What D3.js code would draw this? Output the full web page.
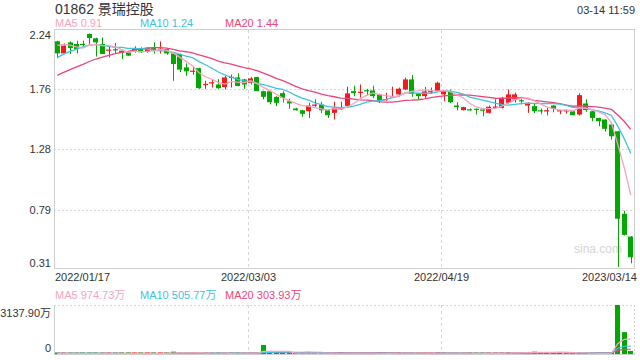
<!DOCTYPE html>
<html><head><meta charset="utf-8">
<script src="https://cdn.jsdelivr.net/npm/d3@7/dist/d3.min.js"></script>
<style>
html,body{margin:0;padding:0;background:#fff;}
svg{display:block;font-family:"Liberation Sans",Arial,"Noto Sans CJK SC",sans-serif;}
</style></head>
<body><svg id="c" width="640" height="360"></svg>
<script>
const title = "01862 景瑞控股";
const stamp = "03-14 11:59";
const dates = ["2022/01/17","2022/01/18","2022/01/19","2022/01/20","2022/01/21","2022/01/24","2022/01/25","2022/01/26","2022/01/27","2022/01/28",
"2022/01/31","2022/02/04","2022/02/07","2022/02/08","2022/02/09","2022/02/10","2022/02/11","2022/02/14","2022/02/15","2022/02/16",
"2022/02/17","2022/02/18","2022/02/21","2022/02/22","2022/02/23","2022/02/24","2022/02/25","2022/02/28","2022/03/01","2022/03/02",
"2022/03/03","2022/03/04","2022/03/07","2022/03/08","2022/03/09","2022/03/10","2022/03/11","2022/03/14","2022/03/15","2022/03/16",
"2022/03/17","2022/03/18","2022/03/21","2022/03/22","2022/03/23","2022/03/24","2022/03/25","2022/03/28","2022/03/29","2022/03/30",
"2022/03/31","2022/04/01","2022/04/04","2022/04/06","2022/04/07","2022/04/08","2022/04/11","2022/04/12","2022/04/13","2022/04/14",
"2022/04/19","2022/04/20","2022/04/21","2022/04/22","2022/04/25","2022/04/26","2022/04/27","2022/04/28","2022/04/29","2022/05/03",
"2022/05/04","2022/05/05","2022/05/06","2022/05/10","2022/05/11","2022/05/12","2022/05/13","2022/05/16","2022/05/17","2022/05/18",
"2022/05/19","2022/05/20","2022/05/23","2022/05/24","2022/05/25","2022/05/26","2022/05/27","2023/03/10","2023/03/13","2023/03/14"];
const open  = [2.149,2.051,2.140,2.127,2.128,2.208,2.173,2.127,2.078,2.085,2.073,2.060,2.068,2.094,2.068,2.094,2.085,2.086,2.051,2.046,
1.938,1.905,1.932,1.800,1.810,1.800,1.779,1.855,1.857,1.841,1.814,1.860,1.746,1.746,1.700,1.730,1.665,1.606,1.592,1.584,
1.634,1.638,1.592,1.571,1.600,1.627,1.746,1.738,1.754,1.752,1.720,1.678,1.700,1.720,1.760,1.841,1.725,1.706,1.742,1.746,
1.720,1.746,1.630,1.593,1.600,1.604,1.598,1.571,1.618,1.612,1.652,1.680,1.673,1.630,1.625,1.592,1.590,1.630,1.590,1.590,
1.584,1.557,1.647,1.584,1.530,1.517,1.477,1.422,0.756,0.572];
const high  = [2.154,2.132,2.148,2.154,2.154,2.212,2.178,2.180,2.114,2.135,2.076,2.065,2.108,2.100,2.100,2.140,2.148,2.090,2.055,2.050,
1.970,1.944,1.935,1.830,1.843,1.843,1.870,1.880,1.890,1.846,1.860,1.862,1.750,1.750,1.705,1.745,1.686,1.612,1.595,1.652,
1.680,1.660,1.595,1.660,1.660,1.782,1.790,1.800,1.765,1.790,1.725,1.733,1.782,1.775,1.855,1.876,1.730,1.780,1.775,1.822,
1.755,1.760,1.657,1.620,1.606,1.606,1.600,1.630,1.680,1.700,1.760,1.735,1.685,1.655,1.650,1.605,1.612,1.632,1.596,1.596,
1.586,1.730,1.680,1.586,1.532,1.519,1.480,1.425,0.780,0.575];
const low   = [2.013,2.046,2.046,2.051,2.108,2.127,2.025,2.046,2.019,2.046,2.005,2.030,2.057,2.055,2.057,2.050,2.050,2.040,1.830,1.900,
1.870,1.879,1.765,1.763,1.776,1.765,1.760,1.776,1.785,1.765,1.800,1.746,1.680,1.640,1.625,1.655,1.604,1.590,1.540,1.530,
1.620,1.570,1.530,1.517,1.595,1.625,1.705,1.695,1.711,1.690,1.650,1.670,1.690,1.700,1.755,1.700,1.673,1.690,1.725,1.740,
1.665,1.650,1.590,1.590,1.590,1.557,1.544,1.565,1.612,1.606,1.645,1.655,1.640,1.571,1.570,1.560,1.550,1.575,1.560,1.565,
1.552,1.550,1.580,1.503,1.463,1.420,1.355,0.325,0.580,0.356];
const close = [2.051,2.114,2.094,2.086,2.125,2.175,2.140,2.046,2.082,2.080,2.057,2.033,2.094,2.060,2.094,2.078,2.090,2.051,1.965,1.920,
1.906,1.912,1.770,1.805,1.818,1.770,1.857,1.862,1.788,1.800,1.849,1.746,1.700,1.657,1.652,1.693,1.647,1.592,1.563,1.630,
1.638,1.592,1.552,1.612,1.608,1.728,1.730,1.742,1.752,1.706,1.665,1.682,1.706,1.766,1.841,1.725,1.706,1.744,1.746,1.814,
1.752,1.657,1.617,1.617,1.598,1.602,1.590,1.620,1.622,1.693,1.720,1.720,1.671,1.652,1.584,1.590,1.592,1.603,1.592,1.592,
1.552,1.714,1.593,1.530,1.503,1.442,1.382,0.716,0.586,0.405];
// 成交量 (万股)
const volume = [45,30,35,28,22,40,38,55,30,25,20,35,30,28,26,32,40,45,150,90,
60,35,80,45,30,50,60,40,55,45,65,70,580,90,60,55,50,45,70,60,
40,50,55,60,40,80,50,45,40,55,50,35,45,50,70,65,40,45,35,60,
55,60,50,35,40,35,45,50,40,60,120,95,80,110,150,70,85,90,120,100.9,
30,45,40,35,34.05,40,100,3137.9,1400,195.75];
// 之前 19 个交易日 (用于均线)
const priorCloses = [1.62,1.64,1.66,1.70,1.72,1.74,1.76,1.78,1.80,1.87,1.84,1.87,1.90,1.95,2.03,2.08,2.12,2.16,2.17];
const priorVolumes = [40,35,50,45,30,40,55,60,45,50,35,40,45,60,50,40,45,35,50];
const priceTicks = [2.24,1.76,1.28,0.79,0.31];
const dateTicks = ["2022/01/17","2022/03/03","2022/04/19","2023/03/14"];
const volMax = 3137.90;

const C = {up:"#f21a1a", down:"#00a800", ma5:"#f5a3bf", ma10:"#3fc2df", ma20:"#e9457b",
  txt:"#333", grid:"#d6d6d6", frame:"#cfcfcf"};

const svg = d3.select("#c");
const L=54, R=634, T=30, B=269, VT=305, VB=354;

const x = d3.scaleBand().domain(dates).range([L,R]).paddingInner(0.22).paddingOuter(0.11);
const bw = x.bandwidth();
const cx = d => x(d) + bw/2;
const y = d3.scaleLinear().domain([0.31,2.24]).range([B,T]);
const yv = d3.scaleLinear().domain([0,volMax]).range([VB,VT]);

function ma(arr, prior, n){
  const all = prior.concat(arr), off = prior.length;
  return arr.map((_,i)=>{const j=i+off; if(j-n+1<0) return null; return d3.mean(all.slice(j-n+1,j+1));});
}
const pm5=ma(close,priorCloses,5), pm10=ma(close,priorCloses,10), pm20=ma(close,priorCloses,20);
const vm5=ma(volume,priorVolumes,5), vm10=ma(volume,priorVolumes,10), vm20=ma(volume,priorVolumes,20);

// header
svg.append("text").attr("x",55).attr("y",14).attr("font-size",14).attr("fill",C.txt).text(title);
svg.append("text").attr("x",635).attr("y",14).attr("text-anchor","end").attr("font-size",11).attr("fill",C.txt).text(stamp);
const last = close.length-1;
[[55,"MA5 ",pm5,C.ma5],[140,"MA10 ",pm10,C.ma10],[225,"MA20 ",pm20,C.ma20]].forEach(([px,lab,arr,col])=>{
  svg.append("text").attr("x",px).attr("y",27).attr("font-size",11).attr("fill",col).text(lab+arr[last].toFixed(2));
});

// price grid
const g = svg.append("g");
priceTicks.slice(1,-1).forEach(v=>{
  g.append("line").attr("x1",L).attr("x2",R).attr("y1",Math.round(y(v))+0.5).attr("y2",Math.round(y(v))+0.5)
   .attr("stroke",C.grid).attr("stroke-dasharray","2,2");
});
dateTicks.slice(1,-1).forEach(d=>{
  const gx = Math.round(x(d))+0.5;
  g.append("line").attr("x1",gx).attr("x2",gx).attr("y1",T).attr("y2",B).attr("stroke",C.grid).attr("stroke-dasharray","3,3");
  g.append("line").attr("x1",gx).attr("x2",gx).attr("y1",VT).attr("y2",VB).attr("stroke",C.grid).attr("stroke-dasharray","3,3");
});
// frame
g.append("rect").attr("x",L+0.5).attr("y",T-0.5).attr("width",R-L).attr("height",B-T).attr("fill","none").attr("stroke",C.frame);
g.append("line").attr("x1",L).attr("x2",R).attr("y1",VT+0.5).attr("y2",VT+0.5).attr("stroke",C.grid).attr("stroke-dasharray","2,2");
g.append("line").attr("x1",R+0.5).attr("x2",R+0.5).attr("y1",VT).attr("y2",VB).attr("stroke",C.grid).attr("stroke-dasharray","2,2");
g.append("line").attr("x1",L+0.5).attr("x2",L+0.5).attr("y1",VT).attr("y2",VB).attr("stroke",C.frame);
g.append("line").attr("x1",L).attr("x2",R+1).attr("y1",VB+0.5).attr("y2",VB+0.5).attr("stroke",C.frame);

// watermark
svg.append("text").attr("x",622).attr("y",253).attr("text-anchor","end").attr("font-size",12).attr("fill","#d4d4d4").text("sina.com");

// y labels
priceTicks.forEach((v,i)=>{
  const dy = i===0 ? 9 : (i===priceTicks.length-1 ? -2 : 4);
  svg.append("text").attr("x",51).attr("y",y(v)+dy).attr("text-anchor","end").attr("font-size",11).attr("fill",C.txt).text(v.toFixed(2));
});
// date labels
dateTicks.forEach((d,i)=>{
  const anchor = i===0?"start":(i===dateTicks.length-1?"end":"middle");
  const px = i===0?L+1:(i===dateTicks.length-1?637:Math.round(x(d))+0.5);
  svg.append("text").attr("x",px).attr("y",281).attr("text-anchor",anchor).attr("font-size",11).attr("fill",C.txt).text(d);
});

// candles
const idx = d3.range(dates.length);
const cg = svg.append("g");
cg.selectAll("line.w").data(idx).join("line")
  .attr("x1",i=>Math.round(cx(dates[i]))+0.5).attr("x2",i=>Math.round(cx(dates[i]))+0.5)
  .attr("y1",i=>y(high[i])).attr("y2",i=>y(low[i]))
  .attr("stroke",i=>close[i]>=open[i]?C.up:C.down).attr("stroke-width",1);
cg.selectAll("rect").data(idx).join("rect")
  .attr("x",i=>Math.round(x(dates[i]))).attr("width",Math.round(bw))
  .attr("y",i=>y(Math.max(open[i],close[i])))
  .attr("height",i=>Math.max(1.2,Math.abs(y(open[i])-y(close[i]))))
  .attr("fill",i=>close[i]>=open[i]?C.up:C.down);

// MA lines
const line = d3.line().defined(d=>d.v!=null).x(d=>cx(dates[d.i])).y(d=>d.yy(d.v));
[[pm20,C.ma20],[pm10,C.ma10],[pm5,C.ma5]].forEach(([arr,col])=>{
  svg.append("path").attr("d",line(arr.map((v,i)=>({i,v,yy:y})))).attr("fill","none").attr("stroke",col).attr("stroke-width",1.3);
});

// volume labels
[[55,"MA5 ",vm5,C.ma5],[140,"MA10 ",vm10,C.ma10],[225,"MA20 ",vm20,C.ma20]].forEach(([px,lab,arr,col])=>{
  svg.append("text").attr("x",px).attr("y",299).attr("font-size",11).attr("fill",col).text(lab+arr[last].toFixed(2)+"万");
});
svg.append("text").attr("x",51).attr("y",317).attr("text-anchor","end").attr("font-size",11).attr("fill",C.txt).text(volMax.toFixed(2)+"万");
svg.append("text").attr("x",51).attr("y",352).attr("text-anchor","end").attr("font-size",11).attr("fill",C.txt).text("0");

// volume bars
svg.append("g").selectAll("rect").data(idx).join("rect")
  .attr("x",i=>Math.round(x(dates[i]))).attr("width",Math.round(bw))
  .attr("y",i=>Math.min(yv(volume[i]),VB-1.5)).attr("height",i=>Math.max(1.5,VB-yv(volume[i])))
  .attr("fill",i=>close[i]>=open[i]?C.up:C.down);
[[vm20,C.ma20],[vm10,C.ma10],[vm5,C.ma5]].forEach(([arr,col])=>{
  svg.append("path").attr("d",line(arr.map((v,i)=>({i,v,yy:yv})))).attr("fill","none").attr("stroke",col).attr("stroke-width",1.2);
});
</script></body></html>
